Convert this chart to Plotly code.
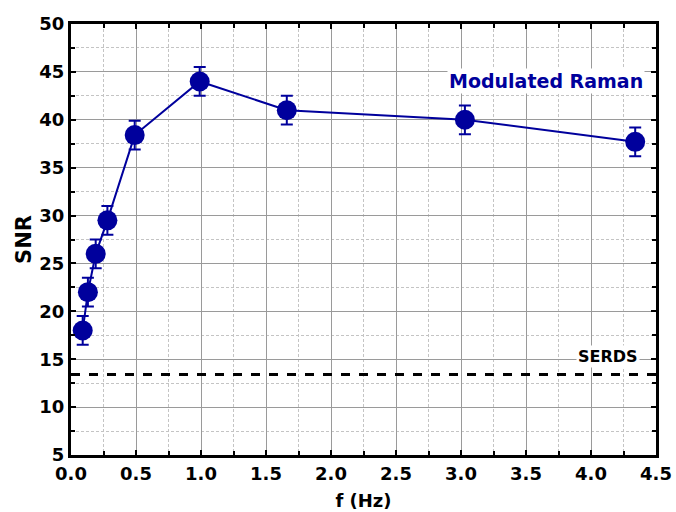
import plotly.graph_objects as go

# Modulation frequency (Hz) and measured SNR with uncertainty
freq_hz = [0.09, 0.13, 0.19, 0.28, 0.49, 0.99, 1.66, 3.03, 4.34]
snr = [18.0, 22.0, 26.0, 29.5, 38.4, 44.0, 41.0, 40.0, 37.7]
snr_err = [1.5, 1.5, 1.5, 1.5, 1.5, 1.5, 1.5, 1.5, 1.5]

# Reference SNR level for SERDS
serds_snr = 13.4

x_ticks = [0.0, 0.5, 1.0, 1.5, 2.0, 2.5, 3.0, 3.5, 4.0, 4.5]
x_tick_text = ["0.0", "0.5", "1.0", "1.5", "2.0", "2.5", "3.0", "3.5", "4.0", "4.5"]
y_ticks = [5, 10, 15, 20, 25, 30, 35, 40, 45, 50]

blue = "#00009c"
font_family = "DejaVu Sans, Arial, sans-serif"

fig = go.Figure()

fig.add_trace(go.Scatter(
    x=[0, 4.5], y=[serds_snr, serds_snr],
    mode="lines",
    line=dict(color="black", width=3, dash="dash"),
    hoverinfo="skip", showlegend=False,
))

fig.add_trace(go.Scatter(
    x=freq_hz, y=snr,
    mode="lines+markers",
    line=dict(color=blue, width=2),
    marker=dict(color=blue, size=20),
    error_y=dict(type="data", array=snr_err, color=blue, thickness=2, width=6),
    showlegend=False,
))

fig.add_annotation(
    x=3.65, y=44.1, xref="x", yref="y",
    text="<b>Modulated Raman</b>", showarrow=False,
    font=dict(family=font_family, size=19, color=blue),
    bgcolor="white",
)
fig.add_annotation(
    x=4.13, y=15.3, xref="x", yref="y",
    text="<b>SERDS</b>", showarrow=False,
    font=dict(family=font_family, size=16, color="black"),
    bgcolor="white",
)

axis_common = dict(
    showline=True, linewidth=3, linecolor="black", mirror="allticks",
    ticks="inside", ticklen=5, tickwidth=2, tickcolor="black",
    showgrid=True, gridcolor="#9a9a9a", gridwidth=1,
    zeroline=False, automargin=False,
    tickfont=dict(family=font_family, size=18, color="black"),
)

fig.update_xaxes(
    range=[0, 4.5], tickvals=x_ticks, ticktext=[f"<b>{t}</b>" for t in x_tick_text],
    minor=dict(dtick=0.25, tick0=0, showgrid=True, gridcolor="#c4c4c4",
               griddash="3px,2px", gridwidth=1, ticks="inside", ticklen=4,
               tickcolor="black"),
    title=dict(text="<b>f (Hz)</b>", font=dict(family=font_family, size=18, color="black"),
               standoff=12),
    **axis_common,
)
fig.update_yaxes(
    range=[5, 50], tickvals=y_ticks, ticktext=[f"<b>{t}</b>" for t in y_ticks],
    minor=dict(dtick=2.5, tick0=5, showgrid=True, gridcolor="#c4c4c4",
               griddash="3px,2px", gridwidth=1, ticks="inside", ticklen=4,
               tickcolor="black"),
    title=dict(text="<b>SNR</b>", font=dict(family=font_family, size=21, color="black"),
               standoff=2),
    **axis_common,
)

fig.update_layout(
    width=676, height=512,
    margin=dict(l=71, r=20, t=24, b=57),
    plot_bgcolor="white", paper_bgcolor="white",
)

fig.write_html("out.html")
